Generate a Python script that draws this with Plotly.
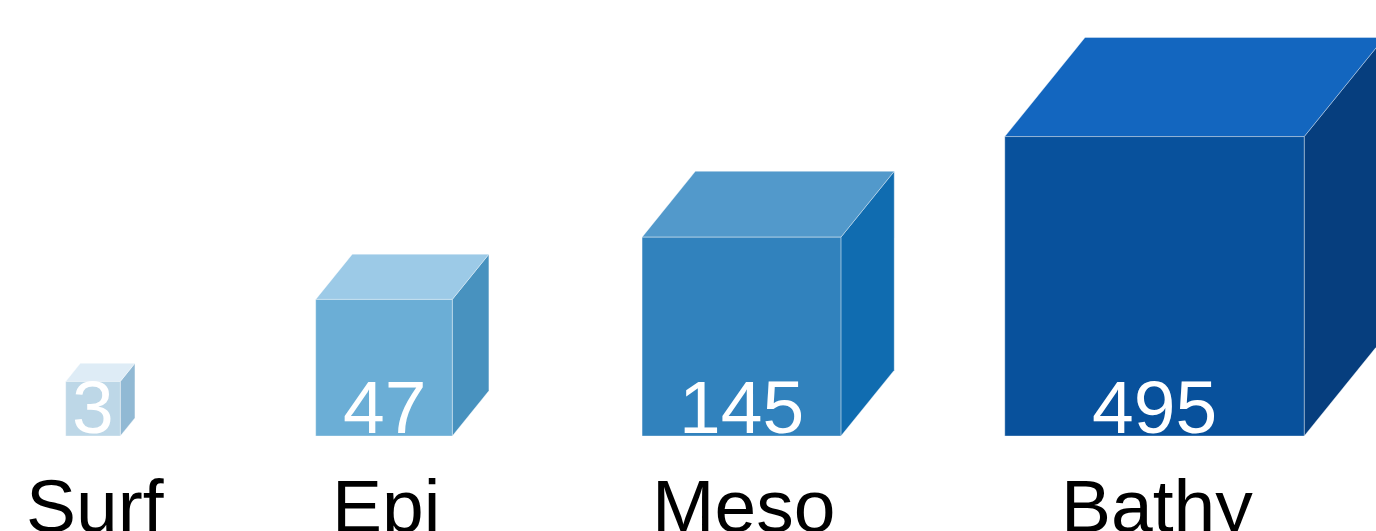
import numpy as np
import plotly.graph_objects as go

# Data
categories = ["Surf", "Epi", "Meso", "Bathy"]
values = [3, 47, 145, 495]

# Styling / layout
front_colors = ["#bdd7e7", "#6baed6", "#3182bd", "#08519c"]
top_colors = ["#deecf6", "#9ccae7", "#5299cb", "#1366bf"]
side_colors = ["#91b9d4", "#4892bf", "#106cb0", "#063e7e"]
centers = [93, 384, 741.5, 1154.5]   # layout positions of cube fronts (px)
W, H = 1376, 531
base = 436           # ground line (px from top)
k = 37.85            # px per cube-root unit (volume-proportional cubes)
depth_x, depth_y = 0.268, 0.331

fig = go.Figure()
edge = dict(color="rgba(255,255,255,0.35)", width=1)

for cat, v, cx, fc, tc, sc in zip(categories, values, centers, front_colors, top_colors, side_colors):
    s = k * np.cbrt(v)
    dx, dy = depth_x * s, depth_y * s
    l, r, t = cx - s / 2, cx + s / 2, base - s
    # side face
    fig.add_trace(go.Scatter(x=[r, r + dx, r + dx, r, r], y=[base, base - dy, t - dy, t, base],
                             fill="toself", fillcolor=sc, mode="lines", line=edge,
                             hoverinfo="skip", showlegend=False))
    # top face
    fig.add_trace(go.Scatter(x=[l, r, r + dx, l + dx, l], y=[t, t, t - dy, t - dy, t],
                             fill="toself", fillcolor=tc, mode="lines", line=edge,
                             hoverinfo="skip", showlegend=False))
    # front face
    fig.add_trace(go.Scatter(x=[l, r, r, l, l], y=[base, base, t, t, base],
                             fill="toself", fillcolor=fc, mode="lines", line=edge,
                             name=cat, hovertemplate=f"{cat}: {v}<extra></extra>",
                             showlegend=False))
    fig.add_annotation(x=cx, y=407, text=str(v), showarrow=False, xanchor="center", yanchor="middle",
                       font=dict(family="Liberation Sans, Arial", size=75, color="white"))
    fig.add_annotation(x=cx + 2, y=506, text=cat, showarrow=False, xanchor="center", yanchor="middle",
                       font=dict(family="Liberation Sans, Arial", size=75, color="black"))

fig.update_xaxes(range=[0, W], visible=False, fixedrange=True)
fig.update_yaxes(range=[H, 0], visible=False, fixedrange=True)
fig.update_layout(width=W, height=H, margin=dict(l=0, r=0, t=0, b=0),
                  plot_bgcolor="white", paper_bgcolor="white")

fig.write_html("out.html", config={"displayModeBar": False},
               post_script="document.body.style.margin='0';document.body.style.overflow='hidden';"
                           "document.documentElement.style.overflow='hidden';")
